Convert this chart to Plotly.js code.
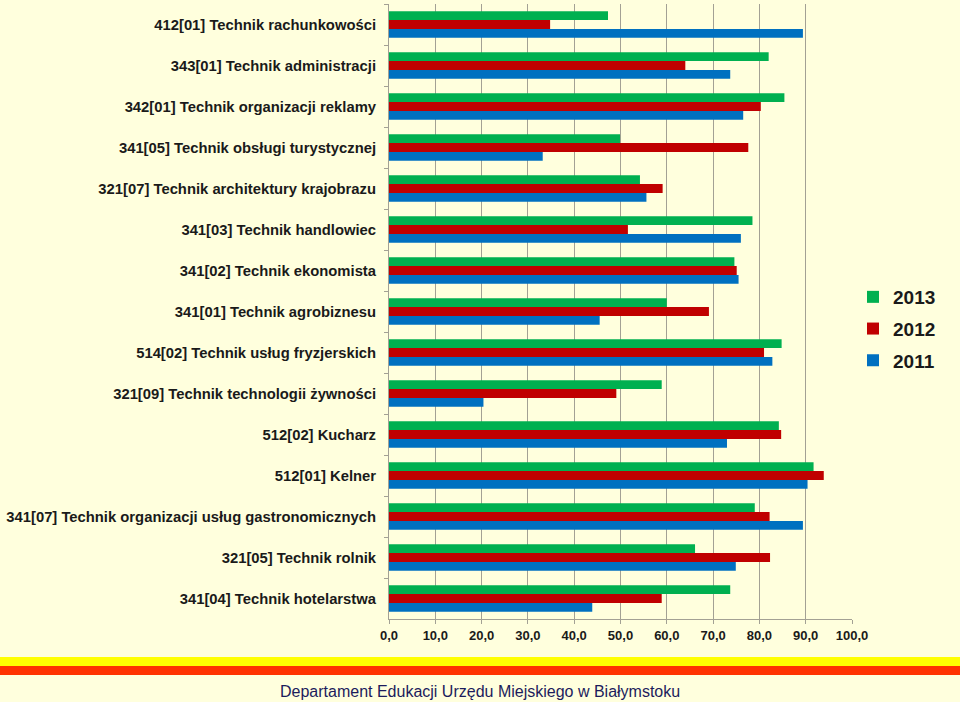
<!DOCTYPE html>
<html>
<head>
<meta charset="utf-8">
<script src="https://cdn.plot.ly/plotly-3.0.1.min.js"></script>
<style>
  html, body { margin: 0; padding: 0; background: #FFFFDD; }
  #chart { width: 960px; height: 702px; }
</style>
</head>
<body>
<div id="chart"></div>
<script>
const categories = [
  "412[01] Technik rachunkowości",
  "343[01] Technik administracji",
  "342[01] Technik organizacji reklamy",
  "341[05] Technik obsługi turystycznej",
  "321[07] Technik architektury krajobrazu",
  "341[03] Technik handlowiec",
  "341[02] Technik ekonomista",
  "341[01] Technik agrobiznesu",
  "514[02] Technik usług fryzjerskich",
  "321[09] Technik technologii żywności",
  "512[02] Kucharz",
  "512[01] Kelner",
  "341[07] Technik organizacji usług gastronomicznych",
  "321[05] Technik rolnik",
  "341[04] Technik hotelarstwa"
];
const values2013 = [47.3, 82.0, 85.4, 49.9, 54.2, 78.5, 74.6, 60.0, 84.8, 58.9, 84.2, 91.7, 79.0, 66.1, 73.7];
const values2012 = [34.8, 64.0, 80.3, 77.6, 59.1, 51.6, 75.1, 69.1, 81.0, 49.1, 84.7, 93.9, 82.2, 82.3, 58.9];
const values2011 = [89.4, 73.7, 76.5, 33.2, 55.6, 76.0, 75.5, 45.5, 82.8, 20.4, 73.0, 90.4, 89.4, 74.9, 43.9];
const seriesNames = ["2013", "2012", "2011"];
const seriesColors = ["#00B050", "#C00000", "#0070C0"];
const xTicks = [0, 10, 20, 30, 40, 50, 60, 70, 80, 90, 100];
const footerText = "Departament Edukacji Urzędu Miejskiego w Białymstoku";

const allValues = [values2013, values2012, values2011];
const traces = allValues.map((vals, i) => ({
  type: "bar",
  orientation: "h",
  name: seriesNames[i],
  legendgroup: "g" + i,
  x: vals,
  y: categories,
  marker: { color: seriesColors[i], line: { width: 0 } },
  hoverinfo: "x+y+name"
}));

const plotH = 702 - 4 - 83;
const plotW = 960 - 389 - 108;
function py(pixY) { return (702 - 83 - pixY) / plotH; }
function px(pixX) { return (pixX - 389) / plotW; }

const layout = {
  width: 960,
  height: 702,
  paper_bgcolor: "#FFFFDD",
  plot_bgcolor: "#FFFFDD",
  margin: { l: 389, r: 108, t: 4, b: 83 },
  barmode: "group",
  bargap: 0.35,
  bargroupgap: 0,
  separators: ",.",
  font: { family: "Liberation Sans, Arial, sans-serif", color: "#1a1a1a" },
  xaxis: {
    range: [0, 100],
    tickvals: xTicks,
    tickformat: ".1f",
    showgrid: true,
    gridcolor: "#A3A194",
    gridwidth: 1,
    zeroline: false,
    showline: true,
    linecolor: "#A3A194",
    linewidth: 1,
    ticks: "outside",
    ticklen: 4,
    tickcolor: "#A3A194",
    tickfont: { size: 13, weight: "bold", color: "#1a1a1a" },
    fixedrange: true
  },
  yaxis: {
    type: "category",
    autorange: "reversed",
    showgrid: false,
    zeroline: false,
    showline: true,
    linecolor: "#A3A194",
    linewidth: 1,
    ticks: "outside",
    tickson: "boundaries",
    ticklen: 4,
    tickcolor: "#A3A194",
    tickfont: { size: 14.8, weight: "bold", color: "#1a1a1a" },
    ticklabelstandoff: 9,
    fixedrange: true
  },
  legend: {
    x: px(853),
    xanchor: "left",
    y: py(329),
    yanchor: "middle",
    traceorder: "grouped",
    tracegroupgap: 4,
    bgcolor: "rgba(0,0,0,0)",
    font: { size: 19, weight: "bold", color: "#1a1a1a" }
  },
  shapes: [
    { type: "rect", xref: "paper", yref: "paper", x0: px(0), x1: px(960), y0: py(666), y1: py(657), line: { width: 0 }, fillcolor: "#FFFF00", layer: "below" },
    { type: "rect", xref: "paper", yref: "paper", x0: px(0), x1: px(960), y0: py(675), y1: py(666), line: { width: 0 }, fillcolor: "#FF3300", layer: "below" }
  ],
  annotations: [
    {
      text: footerText,
      xref: "paper", yref: "paper",
      x: px(480), y: py(691),
      xanchor: "center", yanchor: "middle",
      showarrow: false,
      font: { size: 16, color: "#1C1C5C", family: "Liberation Sans, Arial, sans-serif" }
    }
  ]
};

Plotly.newPlot("chart", traces, layout, { displayModeBar: false, staticPlot: true });
</script>
</body>
</html>
